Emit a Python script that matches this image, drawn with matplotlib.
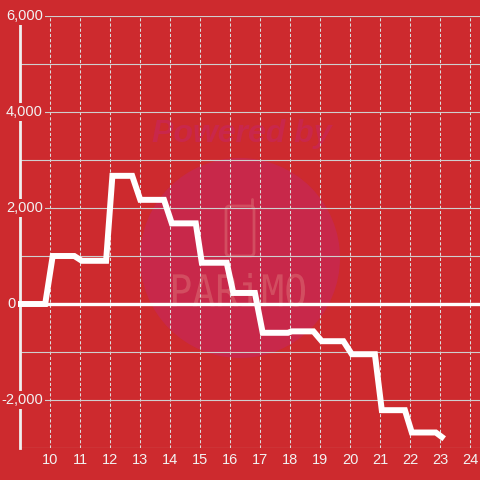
import matplotlib
matplotlib.use("Agg")
import matplotlib.pyplot as plt
from matplotlib.patches import Circle, FancyBboxPatch, PathPatch
from matplotlib.textpath import TextPath
from matplotlib.font_manager import FontProperties
from matplotlib.transforms import Affine2D, blended_transform_factory

# ---------------- data ----------------
hours = [9.0, 9.83, 10.08, 10.8, 11.05, 11.86, 12.07, 12.73, 13.0, 13.79,
         14.05, 14.85, 15.05, 15.88, 16.1, 16.82, 17.08, 17.92, 18.05, 18.77,
         19.05, 19.77, 20.05, 20.82, 21.05, 21.82, 22.05, 22.85, 23.05]
balance = [0, 0, 1000, 1000, 900, 900, 2670, 2670, 2170, 2170,
           1680, 1680, 860, 860, 230, 230, -600, -600, -570, -570,
           -775, -775, -1046, -1046, -2212, -2212, -2677, -2677, -2770]

x_ticks = list(range(10, 25))
x_tick_labels = [str(h) for h in x_ticks]
y_label_values = [6000, 4000, 2000, 0, -2000]
y_label_texts = ["6,000", "4,000", "2,000", "0", "-2,000"]
y_grid_values = list(range(-3000, 7000, 1000))

# ---------------- style ----------------
BG = "#CD2A2E"
CIRCLE = "#C8284A"
WM_TEXT = "#C9274B"
WM_LOGO = "#D65A68"
TXT = "#F2F2F2"
GRID = "#CFCFCF"
GRIDV = "#DDDDDD"
FONT = "Liberation Sans"
W = H = 480.0

fig = plt.figure(figsize=(4.8, 4.8), dpi=100, facecolor=BG)
ax_left_px, ax_bottom_px, ax_top_px = 20.3, 32.0, 464.0
ax = fig.add_axes([ax_left_px / W, ax_bottom_px / H, 1 - ax_left_px / W,
                   (ax_top_px - ax_bottom_px) / H])
ax.set_facecolor(BG)

# watermark
ax.add_patch(Circle((240 / W, 1 - 258 / H), 100 / W, transform=fig.transFigure,
                    facecolor=CIRCLE, edgecolor="none", zorder=0.1))
ax.text(242 / W, 1 - 134 / H, "Powered by", transform=fig.transFigure,
        ha="center", va="center", fontsize=23, fontweight="bold",
        fontstyle="italic", color=WM_TEXT, family=FONT, zorder=0.2)
tp = TextPath((0, 0), "PARiMO", size=1, prop=FontProperties(family="DejaVu Sans Mono"))
ext = tp.get_extents()
x0, x1, yb, yt = 173, 305, H - 307, H - 273
tr = (Affine2D().translate(-ext.x0, -ext.y0)
      .scale((x1 - x0) / ext.width / W, (yt - yb) / ext.height / H)
      .translate(x0 / W, yb / H) + fig.transFigure)
ax.add_patch(PathPatch(tp, transform=tr, facecolor=WM_LOGO, edgecolor="none",
                       alpha=0.75, zorder=0.2))
ax.add_patch(FancyBboxPatch((226 / W, 1 - 256 / H), 28 / W, 50 / H,
                            boxstyle="round,pad=0,rounding_size=0.008",
                            transform=fig.transFigure, facecolor="none",
                            edgecolor=WM_LOGO, lw=2.0, alpha=0.75, zorder=0.2))
ax.plot([252 / W, 252 / W], [1 - 206 / H, 1 - 199 / H], transform=fig.transFigure,
        color=WM_LOGO, lw=2.0, alpha=0.75, solid_capstyle="round", zorder=0.2)

ax.set_xlim(9, 9 + (W - ax_left_px) / 30.0)
ax.set_ylim(-3000, 6000)

# grid
ax.set_axisbelow(True)
ax.set_yticks(y_grid_values)
ax.tick_params(axis="y", length=0, labelleft=False)
ax.set_xticks(x_ticks)
ax.set_xticklabels(x_tick_labels)
ax.tick_params(axis="x", length=0, pad=3.8, labelsize=10.5, labelcolor=TXT)
for lbl in ax.get_xticklabels():
    lbl.set_family(FONT)
ax.yaxis.grid(True, color=GRID, lw=0.8, ls="-")
ax.xaxis.grid(True, color=GRIDV, lw=0.75, ls=(0, (3, 2)))

for s in ["top", "right", "bottom"]:
    ax.spines[s].set_visible(False)
ax.spines["left"].set_color("#F0F0F0")
ax.spines["left"].set_linewidth(2.0)
ax.spines["left"].set_zorder(2)

ax.axhline(0, color="white", lw=2.4, zorder=1.5)

ax.plot(hours, balance, color="white", lw=4.3, solid_joinstyle="miter",
        solid_capstyle="projecting", clip_on=False, zorder=3)

# y labels with background boxes
trans = blended_transform_factory(ax.transAxes, ax.transData)
ax_w = W - ax_left_px
for v, t in zip(y_label_values, y_label_texts):
    right_px = 16.0 if v == 0 else 43.0
    ax.text((right_px - ax_left_px) / ax_w, v, t, transform=trans, ha="right",
            va="center", fontsize=10.5, color=TXT, family=FONT, zorder=5,
            clip_on=False,
            bbox=dict(boxstyle="square,pad=0.12", fc=BG, ec="none"))

fig.savefig("out.png", dpi=100, facecolor=BG)
